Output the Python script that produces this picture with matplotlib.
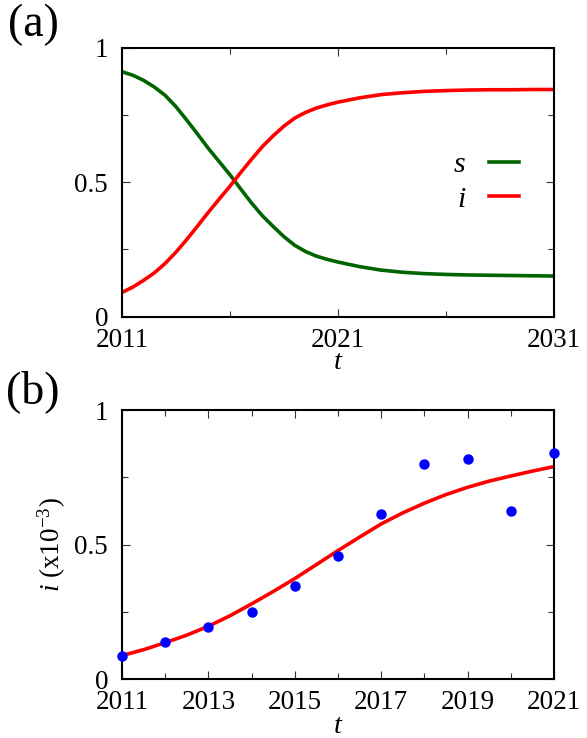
import matplotlib
matplotlib.use("Agg")
import matplotlib.pyplot as plt
from matplotlib.ticker import FixedLocator, FixedFormatter

plt.rcParams['font.family'] = 'serif'
plt.rcParams['font.serif'] = ['Liberation Serif', 'DejaVu Serif']
plt.rcParams['mathtext.fontset'] = 'custom'
plt.rcParams['mathtext.rm'] = 'Liberation Serif'
plt.rcParams['mathtext.it'] = 'Liberation Serif:italic'

# ---- data panel (a) ----
t_a = [2011, 2011.5, 2012, 2012.5, 2013, 2013.5, 2014, 2014.5, 2015, 2015.5, 2016,
       2016.5, 2017, 2017.5, 2018, 2018.5, 2019, 2019.5, 2020, 2020.5, 2021,
       2022, 2023, 2024, 2025, 2026, 2027, 2028, 2029, 2030, 2031]
s_a = [0.910, 0.897, 0.878, 0.853, 0.822, 0.780, 0.730, 0.678, 0.625, 0.576, 0.527,
       0.474, 0.422, 0.375, 0.335, 0.297, 0.265, 0.242, 0.225, 0.213, 0.203,
       0.186, 0.173, 0.165, 0.160, 0.157, 0.155, 0.154, 0.153, 0.152, 0.151]
i_a = [0.090, 0.110, 0.135, 0.163, 0.198, 0.240, 0.287, 0.337, 0.388, 0.437, 0.485,
       0.536, 0.585, 0.632, 0.672, 0.708, 0.738, 0.759, 0.775, 0.787, 0.797,
       0.813, 0.825, 0.832, 0.837, 0.840, 0.842, 0.843, 0.843, 0.844, 0.844]

# ---- data panel (b) ----
t_fit_b = [2011, 2011.5, 2012, 2012.5, 2013, 2013.5, 2014, 2014.5, 2015, 2015.5, 2016,
           2016.5, 2017, 2017.5, 2018, 2018.5, 2019, 2019.5, 2020, 2020.5, 2021]
i_fit_b = [0.088, 0.110, 0.136, 0.164, 0.197, 0.236, 0.280, 0.326, 0.374, 0.426, 0.478,
           0.528, 0.577, 0.618, 0.654, 0.686, 0.713, 0.736, 0.755, 0.773, 0.790]
years_obs_b = [2011, 2012, 2013, 2014, 2015, 2016, 2017, 2018, 2019, 2020, 2021]
i_obs_b = [0.088, 0.137, 0.194, 0.251, 0.346, 0.458, 0.614, 0.800, 0.818, 0.626, 0.839]

xticks_a = [2011, 2021, 2031]
xminor_a = [2016, 2026]
xticks_b = [2011, 2013, 2015, 2017, 2019, 2021]
xminor_b = [2012, 2014, 2016, 2018, 2020]
yticks = [0, 0.5, 1]
ytick_labels = ['0', '0.5', '1']
yminor = [0.25, 0.75]

W, H = 587, 738
fig = plt.figure(figsize=(W / 100, H / 100), dpi=100)

def px_axes(l, t, r, b):
    return fig.add_axes([l / W, 1 - b / H, (r - l) / W, (b - t) / H])

ax1 = px_axes(122, 47.5, 554, 316.7)
ax2 = px_axes(122, 410, 554, 679.3)

GREEN = '#006400'
RED = '#ff0000'
BLUE = '#0000ff'
FS = 19.5

ax1.plot(t_a, s_a, color=GREEN, lw=2.6, label='s')
ax1.plot(t_a, i_a, color=RED, lw=2.6, label='i')
ax1.set_xlim(2011, 2031)
ax1.set_ylim(0, 1)

ax2.plot(t_fit_b, i_fit_b, color=RED, lw=2.6, zorder=2)
ax2.plot(years_obs_b, i_obs_b, 'o', color=BLUE, ms=6.5, zorder=3, clip_on=False)
ax2.set_xlim(2011, 2021)
ax2.set_ylim(0, 1)

for ax, xt, xm in [(ax1, xticks_a, xminor_a), (ax2, xticks_b, xminor_b)]:
    ax.xaxis.set_major_locator(FixedLocator(xt))
    ax.xaxis.set_major_formatter(FixedFormatter([str(v) for v in xt]))
    ax.xaxis.set_minor_locator(FixedLocator(xm))
    ax.yaxis.set_major_locator(FixedLocator(yticks))
    ax.yaxis.set_major_formatter(FixedFormatter(ytick_labels))
    ax.yaxis.set_minor_locator(FixedLocator(yminor))
    ax.tick_params(which='both', direction='in', top=True, right=True,
                   labelsize=FS, width=0.8, color='#333333')
    ax.tick_params(which='major', length=6)
    ax.tick_params(which='minor', length=4)
    ax.tick_params(axis='x', which='major', pad=8)
    ax.tick_params(axis='y', which='major', pad=10)
    for sp in ax.spines.values():
        sp.set_linewidth(1.5)
    ax.set_xlabel('t', fontsize=FS + 1, fontstyle='italic')

ax1.xaxis.set_label_coords(0.5, -0.125)
ax2.xaxis.set_label_coords(0.5, -0.127)

ax2.set_ylabel(r'$\mathit{i}$ (x10$^{\mathrm{-3}}$)', fontsize=FS)
ax2.yaxis.set_label_coords(-0.125, 0.5)

leg = ax1.legend(loc='center right', bbox_to_anchor=(0.919, 0.5), frameon=False,
                 markerfirst=False, handlelength=1.0, handletextpad=0.8,
                 labelspacing=0.25, borderpad=0, borderaxespad=0,
                 prop={'family': 'serif', 'style': 'italic', 'size': FS + 2})

fig.text(33 / W, 1 - 25 / H, '(a)', fontsize=33, ha='center', va='center')
fig.text(33 / W, 1 - 392 / H, '(b)', fontsize=33, ha='center', va='center')

fig.savefig('out.png', dpi=100)
